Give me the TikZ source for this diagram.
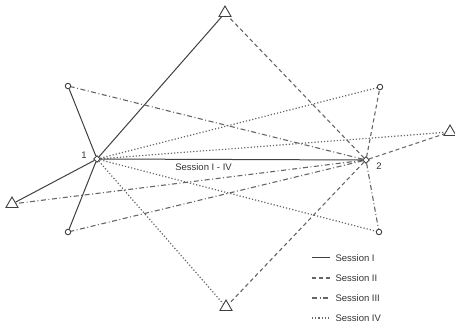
\documentclass[tikz,border=0pt]{standalone}
\usepackage{fontspec}
\setmainfont{Liberation Sans}
\usetikzlibrary{shapes.geometric}

\begin{document}
\begin{tikzpicture}[x=1pt, y=-1pt,
    station/.style={draw=black!75, regular polygon, regular polygon sides=3, minimum size=14pt, inner sep=0pt, line width=0.9pt},
    point/.style={draw=black!75, circle, minimum size=5.5pt, inner sep=0pt, line width=0.9pt},
    base/.style={draw=black!75, diamond, minimum size=7pt, inner sep=0pt, line width=0.9pt},
    sI/.style={black!75, line width=1pt},
    sII/.style={black!60, line width=1.1pt, dash pattern=on 4pt off 3pt},
    sIII/.style={black!60, line width=1.1pt, dash pattern=on 5pt off 2.5pt on 1pt off 2.5pt},
    sIV/.style={black!60, line width=1.2pt, dash pattern=on 1.2pt off 2pt},
    lbl/.style={font=\fontsize{9.5}{11}\selectfont, black!80}]
    \useasboundingbox (0,0) rectangle (455,328);

    % stations and points
    \node[base] (p1) at (97,159) {};
    \node[base] (p2) at (366,160) {};
    \node[station] (t1) at (225,13) {};
    \node[station] (t2) at (226,307) {};
    \node[station] (tl) at (12,204) {};
    \node[station] (tr) at (450,132) {};
    \node[point] (c1) at (68,86) {};
    \node[point] (c2) at (380,87) {};
    \node[point] (c3) at (68,232) {};
    \node[point] (c4) at (379,232) {};
    \node[lbl] (n1) at (84,155) {1};
    \node[lbl] (n2) at (379,166) {2};

    % sessions
    \foreach \t in {t1,c1,tl,c3} \draw[sI] (p1) -- (\t);
    \foreach \t in {t1,c2,tr,t2} \draw[sII] (p2) -- (\t);
    \foreach \t in {c1,tl,c3,c4} \draw[sIII] (p2) -- (\t);
    \foreach \t in {c2,tr,c4,t2} \draw[sIV] (p1) -- (\t);
    \draw[sI] (p1) -- (p2) node[lbl, midway, below, xshift=-28pt] (base) {Session I - IV};

    % legend
    \foreach \s/\txt [count=\i] in {sI/Session I, sII/Session II, sIII/Session III, sIV/Session IV} {
        \node[lbl, anchor=west] (lg\i) at (332,238+20*\i) {\txt};
        \draw[\s] ([xshift=-20pt]lg\i.west) -- ([xshift=-2pt]lg\i.west);
    }
\end{tikzpicture}
\end{document}
